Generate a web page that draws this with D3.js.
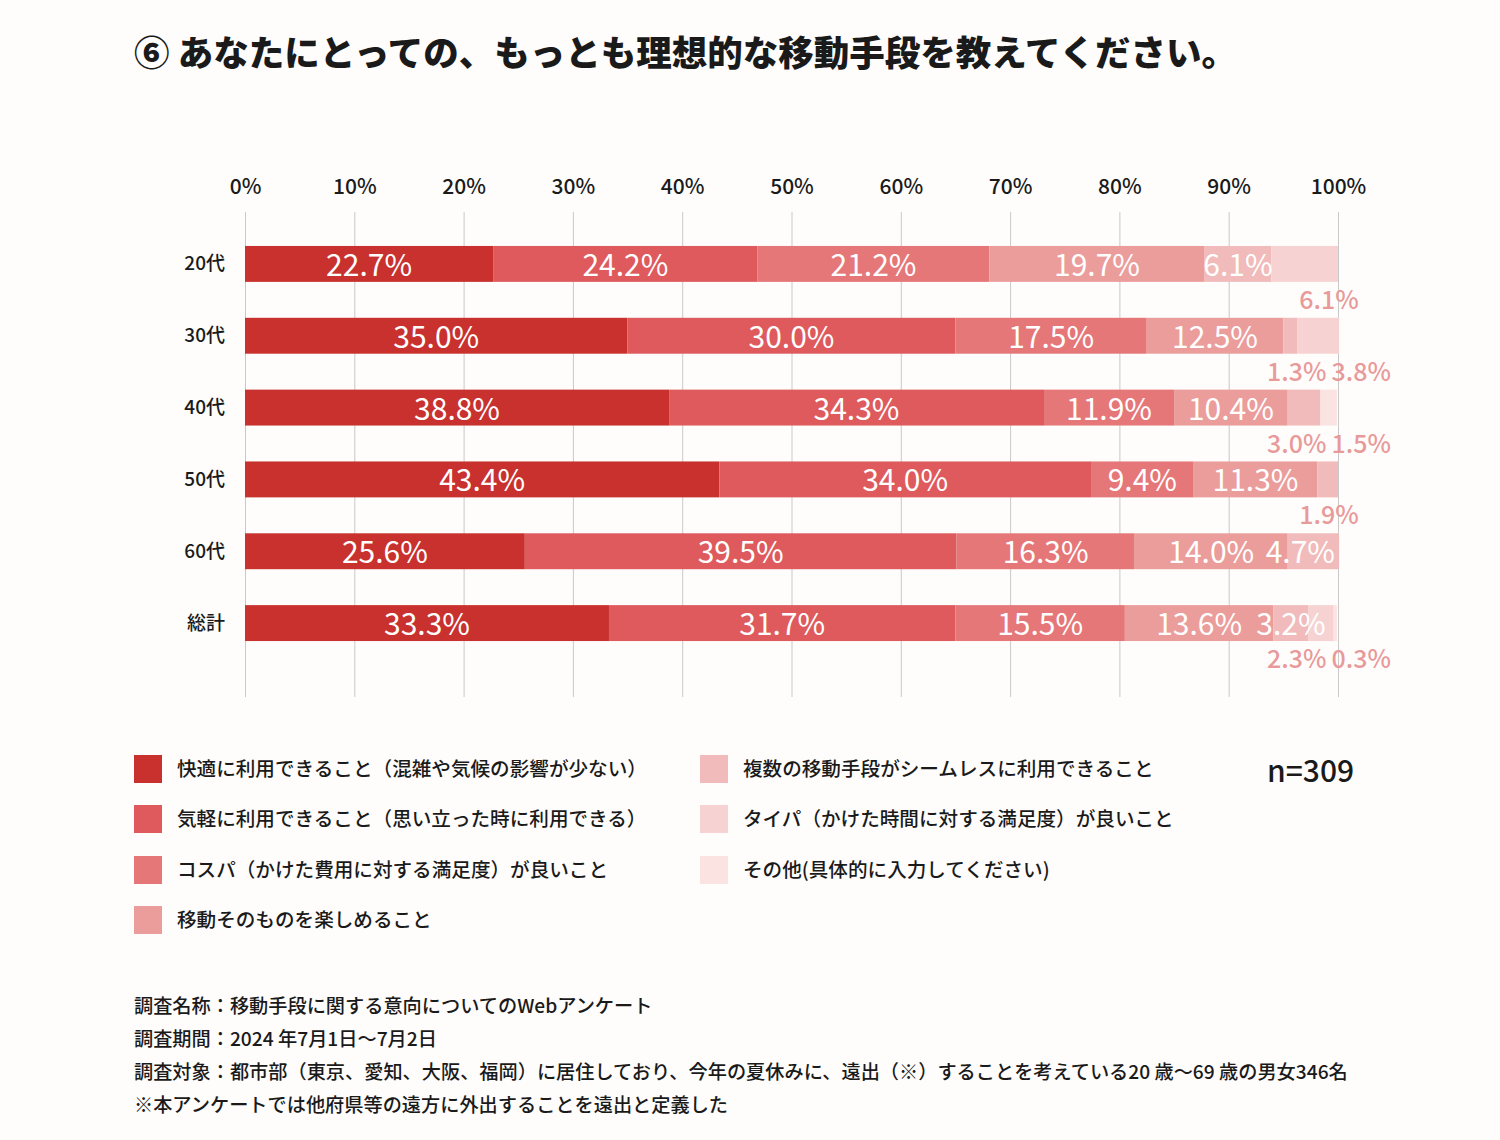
<!DOCTYPE html>
<html><head><meta charset="utf-8">
<script src="https://cdn.jsdelivr.net/npm/d3@7"></script>
<style>
html,body{margin:0;padding:0;background:#fefdfc;}
svg{display:block;font-family:"Noto Sans CJK JP","Noto Sans",sans-serif;}
</style></head>
<body>
<svg id="chart" width="1500" height="1140"></svg>
<script>
const categories = ["20代","30代","40代","50代","60代","総計"];
const seriesNames = [
  "快適に利用できること（混雑や気候の影響が少ない）",
  "気軽に利用できること（思い立った時に利用できる）",
  "コスパ（かけた費用に対する満足度）が良いこと",
  "移動そのものを楽しめること",
  "複数の移動手段がシームレスに利用できること",
  "タイパ（かけた時間に対する満足度）が良いこと",
  "その他(具体的に入力してください)"
];
const s1 = [22.7, 35.0, 38.8, 43.4, 25.6, 33.3];
const s2 = [24.2, 30.0, 34.3, 34.0, 39.5, 31.7];
const s3 = [21.2, 17.5, 11.9, 9.4, 16.3, 15.5];
const s4 = [19.7, 12.5, 10.4, 11.3, 14.0, 13.6];
const s5 = [6.1, 1.3, 3.0, 1.9, 4.7, 3.2];
const s6 = [6.1, 3.8, 0, 0, 0, 2.3];
const s7 = [0, 0, 1.5, 0, 0, 0.3];
const tickValues = [0,10,20,30,40,50,60,70,80,90,100];
const tickLabels = ["0%","10%","20%","30%","40%","50%","60%","70%","80%","90%","100%"];
// series indices whose value label sits under the bar, per category
const labelBelow = [[5],[4,5],[4,6],[4],[],[5,6]];
const colors = ["#c8312e","#de5a5c","#e57779","#eb9d9b","#f0bbba","#f6d3d2","#fbe3e2"];
const sampleSize = "n=309";
const titleText = "⑥ あなたにとっての、もっとも理想的な移動手段を教えてください。";
const footerLines = [
  "調査名称：移動手段に関する意向についてのWebアンケート",
  "調査期間：2024 年7月1日〜7月2日",
  "調査対象：都市部（東京、愛知、大阪、福岡）に居住しており、今年の夏休みに、遠出（※）することを考えている20 歳〜69 歳の男女346名",
  "※本アンケートでは他府県等の遠方に外出することを遠出と定義した"
];

const seriesValues = [s1,s2,s3,s4,s5,s6,s7];
const svg = d3.select("#chart");

const x = d3.scaleLinear().domain([0,100]).range([245,1338]);
const y = d3.scaleBand().domain(categories).range([228,659]).paddingInner(0.5).paddingOuter(0.25);

// title
svg.append("text").attr("x",134).attr("y",66)
  .attr("font-size",35.5).attr("font-weight",900).attr("fill","#1a1a1a")
  .text(titleText);

// grid
svg.append("g").selectAll("line").data(tickValues).join("line")
  .attr("x1",d=>x(d)+0.5).attr("x2",d=>x(d)+0.5)
  .attr("y1",212).attr("y2",697)
  .attr("stroke","#c9c9c9").attr("stroke-width",1);

// top axis labels
const axis = d3.axisTop(x).tickValues(tickValues).tickFormat((d,i)=>tickLabels[i]).tickSize(0).tickPadding(0);
const ag = svg.append("g").attr("transform","translate(0,194)").call(axis);
ag.select(".domain").remove();
ag.selectAll("text").attr("font-size",21).attr("font-weight",500).attr("fill","#1a1a1a")
  .attr("font-family","'Noto Sans CJK JP',sans-serif");

// category labels
svg.append("g").selectAll("text").data(categories).join("text")
  .attr("x",225).attr("y",d=>y(d)+y.bandwidth()/2-2)
  .attr("text-anchor","end").attr("dominant-baseline","central")
  .attr("font-size",19).attr("font-weight",500).attr("fill","#1a1a1a")
  .text(d=>d);

// stacked data
const rows = categories.map((c,ci)=>{
  let acc = 0;
  return seriesValues.map((sv,si)=>{
    const seg = {cat:c, ci, si, v:sv[ci], x0:acc, x1:acc+sv[ci]};
    acc += sv[ci];
    return seg;
  });
});
const segs = rows.flat().filter(d=>d.v>0);

svg.append("g").selectAll("rect").data(segs).join("rect")
  .attr("x",d=>x(d.x0)).attr("width",d=>x(d.x1)-x(d.x0))
  .attr("y",d=>y(d.cat)).attr("height",y.bandwidth())
  .attr("fill",d=>colors[d.si]);

// inside labels
const fmt = v => v.toFixed(1)+"%";
const inside = segs.filter(d=>!labelBelow[d.ci].includes(d.si));
const ig = svg.append("g");
inside.forEach(d=>{
  const t = ig.append("text")
    .attr("y",y(d.cat)+y.bandwidth()/2-1)
    .attr("text-anchor","middle").attr("dominant-baseline","central")
    .attr("font-size",30).attr("font-weight",400).attr("fill","#ffffff")
    .text(fmt(d.v));
  const w = t.node().getComputedTextLength();
  let cx = (x(d.x0)+x(d.x1))/2;
  cx = Math.min(cx, x(100)-3-w/2);
  t.attr("x",cx);
});

// below labels
const bg = svg.append("g");
categories.forEach((c,ci)=>{
  const list = labelBelow[ci].map(si=>rows[ci][si]).filter(d=>d.v>0);
  if(!list.length) return;
  const texts = list.map(d=>bg.append("text")
    .attr("y",y(c)+y.bandwidth()+16)
    .attr("dominant-baseline","central")
    .attr("font-size",25).attr("font-weight",500).attr("fill","#e89a9a")
    .text(fmt(d.v)));
  const gap = 5;
  const widths = texts.map(t=>t.node().getComputedTextLength());
  const total = d3.sum(widths)+gap*(widths.length-1);
  let sx = x(100)-9-total/2;
  texts.forEach((t,i)=>{ t.attr("x",sx); sx += widths[i]+gap; });
});

// legend
const legendPos = [[134,755],[134,805],[134,856],[134,906],[700,755],[700,805],[700,856]];
const lg = svg.append("g");
seriesNames.forEach((n,i)=>{
  const [lx,ly] = legendPos[i];
  lg.append("rect").attr("x",lx).attr("y",ly).attr("width",28).attr("height",28).attr("fill",colors[i]);
  lg.append("text").attr("x",lx+43).attr("y",ly+12).attr("dominant-baseline","central")
    .attr("font-size",19.6).attr("font-weight",500).attr("fill","#1a1a1a").text(n);
});
svg.append("text").attr("x",1267).attr("y",769).attr("dominant-baseline","central")
  .attr("font-size",30).attr("font-weight",500).attr("fill","#1a1a1a").text(sampleSize);

// footer
svg.append("g").selectAll("text").data(footerLines).join("text")
  .attr("x",134).attr("y",(d,i)=>1005+i*33).attr("dominant-baseline","central")
  .attr("font-size",19.2).attr("font-weight",500).attr("fill","#1a1a1a")
  .text(d=>d);
</script>
</body></html>
